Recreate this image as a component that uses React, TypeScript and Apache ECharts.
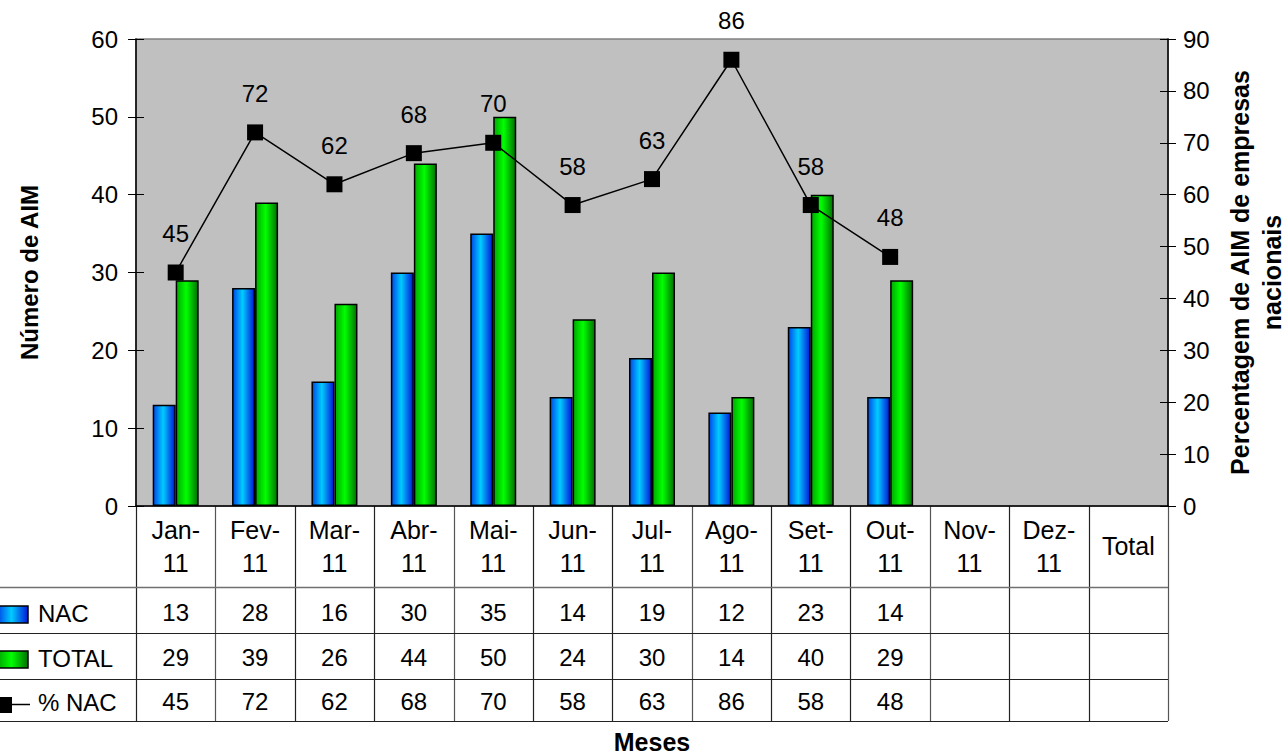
import React, { useEffect, useRef } from "react";
import * as echarts from "echarts";

const categories = ["Jan-\n11", "Fev-\n11", "Mar-\n11", "Abr-\n11", "Mai-\n11", "Jun-\n11", "Jul-\n11", "Ago-\n11", "Set-\n11", "Out-\n11", "Nov-\n11", "Dez-\n11", "Total"];
const nacValues: (number | null)[] = [13, 28, 16, 30, 35, 14, 19, 12, 23, 14, null, null, null];
const totalValues: (number | null)[] = [29, 39, 26, 44, 50, 24, 30, 14, 40, 29, null, null, null];
const pctNacValues: (number | null)[] = [45, 72, 62, 68, 70, 58, 63, 86, 58, 48, null, null, null];
const seriesNames = ["NAC", "TOTAL", "% NAC"];
const leftAxis = { min: 0, max: 60, interval: 10 };
const rightAxis = { min: 0, max: 90, interval: 10 };

const FONT = '"Liberation Sans", Arial, sans-serif';

export default function App() {
  const ref = useRef<HTMLDivElement>(null);
  useEffect(() => {
    if (!ref.current) return;
    const chart = echarts.init(ref.current, undefined, { renderer: "svg" });
    const W = 1288;
    const H = 756;
    const GL = 136, GR = 120, GT = 39, GB = 250;
    const plotBottom = H - GB;
    const plotRight = W - GR;

    const blueGrad = () =>
      new echarts.graphic.LinearGradient(0, 0, 1, 0, [
        { offset: 0, color: "#0048e8" },
        { offset: 0.45, color: "#00ccff" },
        { offset: 1, color: "#0018d8" },
      ]);
    const greenGrad = () =>
      new echarts.graphic.LinearGradient(0, 0, 1, 0, [
        { offset: 0, color: "#00a800" },
        { offset: 0.45, color: "#00ff00" },
        { offset: 1, color: "#007000" },
      ]);

    const tickStyle = { color: "#000", width: 1 };
    const labelStyle = { color: "#000", fontSize: 24, fontFamily: FONT };

    chart.setOption({
      animation: false,
      textStyle: { fontFamily: FONT },
      grid: {
        left: GL,
        right: GR,
        top: GT,
        bottom: GB,
        containLabel: false,
        outerBoundsMode: "none",
        show: true,
        backgroundColor: "#c0c0c0",
        borderColor: "#808080",
        borderWidth: 1.5,
      },
      xAxis: {
        type: "category",
        data: categories,
        axisLine: { show: true, lineStyle: { color: "#000", width: 1.5 } },
        axisTick: { show: false },
        axisLabel: {
          interval: 0,
          margin: 40,
          verticalAlign: "middle",
          lineHeight: 33,
          color: "#000",
          fontSize: 25,
          fontFamily: FONT,
        },
        name: "Meses",
        nameLocation: "middle",
        nameGap: 225,
        nameTextStyle: { fontSize: 25, lineHeight: 22, fontWeight: "bold", color: "#000", fontFamily: FONT },
        splitLine: { show: false },
      },
      yAxis: [
        {
          type: "value",
          position: "left",
          min: leftAxis.min,
          max: leftAxis.max,
          interval: leftAxis.interval,
          axisLine: { show: true, lineStyle: { color: "#000", width: 1.5 } },
          axisTick: { show: true, length: 8, lineStyle: tickStyle },
          axisLabel: { ...labelStyle, margin: 18 },
          splitLine: { show: false },
          name: "Número de AIM",
          nameLocation: "middle",
          nameRotate: 90,
          nameGap: 95,
          nameTextStyle: { fontSize: 24, fontWeight: "bold", color: "#000", fontFamily: FONT },
        },
        {
          type: "value",
          position: "right",
          min: rightAxis.min,
          max: rightAxis.max,
          interval: rightAxis.interval,
          axisLine: { show: true, lineStyle: { color: "#000", width: 1.5 } },
          axisTick: { show: true, length: 8, lineStyle: tickStyle },
          axisLabel: { ...labelStyle, margin: 15 },
          splitLine: { show: false },
          name: "Percentagem de AIM de empresas\nnacionais",
          nameLocation: "middle",
          nameRotate: 90,
          nameGap: 56,
          nameTextStyle: { fontSize: 25, fontWeight: "bold", color: "#000", fontFamily: FONT, lineHeight: 32, align: "center" },
        },
        {
          type: "value",
          position: "left",
          min: leftAxis.min,
          max: leftAxis.max,
          interval: leftAxis.interval,
          axisLine: { show: false },
          axisTick: { show: true, inside: true, length: 8, lineStyle: tickStyle },
          axisLabel: { show: false },
          splitLine: { show: false },
        },
        {
          type: "value",
          position: "right",
          min: rightAxis.min,
          max: rightAxis.max,
          interval: rightAxis.interval,
          axisLine: { show: false },
          axisTick: { show: true, inside: true, length: 8, lineStyle: tickStyle },
          axisLabel: { show: false },
          splitLine: { show: false },
        },
      ],
      series: [
        {
          name: seriesNames[0],
          type: "bar",
          yAxisIndex: 0,
          data: nacValues,
          barWidth: 23,
          barGap: "0%",
          itemStyle: { color: blueGrad(), borderColor: "#000", borderWidth: 1.5 },
        },
        {
          name: seriesNames[1],
          type: "bar",
          yAxisIndex: 0,
          data: totalValues,
          barWidth: 23,
          barGap: "0%",
          itemStyle: { color: greenGrad(), borderColor: "#000", borderWidth: 1.5 },
        },
        {
          name: seriesNames[2],
          type: "line",
          yAxisIndex: 1,
          data: pctNacValues,
          symbol: "rect",
          symbolSize: 16,
          itemStyle: { color: "#000" },
          lineStyle: { color: "#000", width: 1.5 },
          label: { show: true, position: "top", distance: 19, fontSize: 24, color: "#000", fontFamily: FONT },
          z: 5,
        },
      ],
    });

    // Data table under the chart
    const n = categories.length;
    const catW = (plotRight - GL) / n;
    const rowLines = [587, 633, 679, 721];
    const rowCenters = [612, 657, 701];
    const rows = [nacValues, totalValues, pctNacValues];
    const elements: any[] = [];
    for (let i = 0; i <= n; i++) {
      const x = Math.round(GL + i * catW) + 0.5;
      elements.push({
        type: "line",
        shape: { x1: x, y1: plotBottom, x2: x, y2: rowLines[3] },
        style: { stroke: i % 3 === 1 ? "#555" : "#222", lineWidth: 1.2 },
        silent: true,
      });
    }
    rowLines.forEach((y, k) => {
      elements.push({
        type: "line",
        shape: { x1: 0, y1: y + 0.5, x2: plotRight, y2: y + 0.5 },
        style: { stroke: k === 0 ? "#707070" : "#222", lineWidth: k === 0 ? 1.5 : 1.2 },
        silent: true,
      });
    });
    rows.forEach((vals, r) => {
      vals.forEach((v, i) => {
        if (v === null || v === undefined) return;
        const px = chart.convertToPixel({ xAxisIndex: 0 }, i) as unknown as number;
        elements.push({
          type: "text",
          style: {
            text: String(v),
            x: px,
            y: rowCenters[r],
            align: "center",
            verticalAlign: "middle",
            fontSize: 24,
            fontFamily: FONT,
            fill: "#000",
          },
          silent: true,
        });
      });
      elements.push({
        type: "text",
        style: {
          text: seriesNames[r],
          x: 38,
          y: rowCenters[r] + 1,
          align: "left",
          verticalAlign: "middle",
          fontSize: 24,
          fontFamily: FONT,
          fill: "#000",
        },
        silent: true,
      });
    });
    elements.push({
      type: "rect",
      shape: { x: -2, y: 606, width: 30, height: 17 },
      style: { fill: blueGrad(), stroke: "#000", lineWidth: 1.5 },
      silent: true,
    });
    elements.push({
      type: "rect",
      shape: { x: -2, y: 651, width: 30, height: 17 },
      style: { fill: greenGrad(), stroke: "#000", lineWidth: 1.5 },
      silent: true,
    });
    elements.push({
      type: "line",
      shape: { x1: 6, y1: 704.5, x2: 30, y2: 704.5 },
      style: { stroke: "#000", lineWidth: 1.5 },
      silent: true,
    });
    elements.push({
      type: "rect",
      shape: { x: -4, y: 697, width: 16, height: 16 },
      style: { fill: "#000" },
      silent: true,
    });

    chart.setOption({ graphic: { elements } });

    return () => chart.dispose();
  }, []);

  return (
    <div
      ref={ref}
      style={{ position: "fixed", left: 0, top: 0, width: 1288, height: 756, background: "#fff" }}
    />
  );
}
